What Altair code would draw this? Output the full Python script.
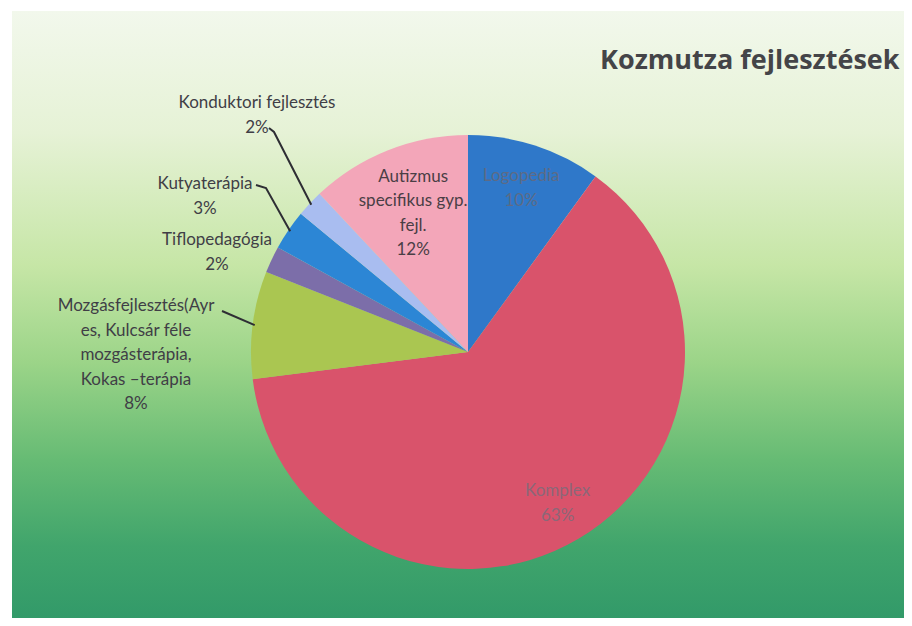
import math
import altair as alt
import pandas as pd

# ---- data ----
categories = [
    "Logopedia",
    "Komplex",
    "Mozgásfejlesztés(Ayres, Kulcsár féle mozgásterápia, Kokas –terápia",
    "Tiflopedagógia",
    "Kutyaterápia",
    "Konduktori fejlesztés",
    "Autizmus specifikus gyp. fejl.",
]
values = [10, 63, 8, 2, 3, 2, 12]
label_lines = [
    "Logopedia\n10%",
    "Komplex\n63%",
    "Mozgásfejlesztés(Ayr\nes, Kulcsár féle\nmozgásterápia,\nKokas –terápia\n8%",
    "Tiflopedagógia\n2%",
    "Kutyaterápia\n3%",
    "Konduktori fejlesztés\n2%",
    "Autizmus\nspecifikus gyp.\nfejl.\n12%",
]
title_text = "Kozmutza fejlesztések"

# ---- style / layout ----
slice_colors = ["#2f78c9", "#d9536b", "#aac651", "#7c6ea9", "#2c86d5", "#a9bdf0", "#f3a6b9"]
label_colors = ["#5d6b86", "#8c6778", "#403e46", "#403e46", "#403e46", "#403e46", "#4a3e45"]
W, H = 896, 610
CX, CY, R = 460, 344, 217
LH = 24.6
# inside labels: radial distance of block centre; outside labels: first-line centre
label_place = {
    0: ("polar", 172),
    1: ("polar", 176),
    6: ("polar", 149),
    2: ("fixed", (128, 298)),
    3: ("fixed", (209, 232)),
    4: ("fixed", (197, 176)),
    5: ("fixed", (249, 95)),
}
# leader lines: label-side points, ending at the slice edge
leader_start = {
    5: [(261, 120), (266, 124)],
    4: [(248, 177), (258, 180)],
    2: [(214, 303)],
}

total = sum(values)
mid_angle = []
acc = 0
for v in values:
    mid_angle.append(2 * math.pi * (acc + v / 2) / total)
    acc += v

df = pd.DataFrame({"cat": categories, "value": values, "idx": list(range(len(values)))})

lab_rows = []
for i, txt in enumerate(label_lines):
    kind, p = label_place[i]
    if kind == "polar":
        a = mid_angle[i]
        n = txt.count("\n")
        px, py = CX + p * math.sin(a), CY - p * math.cos(a) - n * LH / 2
    else:
        px, py = p
    lab_rows.append({"px": px, "py": py, "txt": txt, "col": label_colors[i]})
lab_df = pd.DataFrame(lab_rows)

lead_rows = []
for i, pts in leader_start.items():
    a = mid_angle[i]
    edge = (CX + (R - 2) * math.sin(a), CY - (R - 2) * math.cos(a))
    for k, (x, y) in enumerate(pts + [edge]):
        lead_rows.append({"lid": i, "ord": k, "px": x, "py": y})
lead_df = pd.DataFrame(lead_rows)

bg = alt.LinearGradient(
    gradient="linear",
    stops=[
        alt.GradientStop(color="#f2f8ec", offset=0),
        alt.GradientStop(color="#e6f2d6", offset=0.2),
        alt.GradientStop(color="#c6e6a6", offset=0.42),
        alt.GradientStop(color="#9bd488", offset=0.58),
        alt.GradientStop(color="#66bb74", offset=0.74),
        alt.GradientStop(color="#41a56c", offset=0.88),
        alt.GradientStop(color="#329a69", offset=1),
    ],
    x1=0, x2=0, y1=0, y2=1,
)

background = alt.Chart(pd.DataFrame({"a": [0]})).mark_rect(color=bg).encode(
    x=alt.value(4), x2=alt.value(W), y=alt.value(3), y2=alt.value(H)
)

pie = alt.Chart(df).mark_arc(radius=R).encode(
    theta=alt.Theta("value:Q", stack=True),
    color=alt.Color("cat:N", scale=alt.Scale(domain=categories, range=slice_colors), legend=None),
    order=alt.Order("idx:Q"),
    x=alt.value(CX),
    y=alt.value(CY),
)

leaders = alt.Chart(lead_df).mark_line(color="#2e2e34", strokeWidth=2).encode(
    x=alt.X("px:Q", scale=None, axis=None),
    y=alt.Y("py:Q", scale=None, axis=None),
    detail="lid:N",
    order="ord:Q",
)

labels = alt.Chart(lab_df).mark_text(
    lineBreak="\n", align="center", baseline="middle", font="Lato", fontSize=17, lineHeight=LH
).encode(
    x=alt.X("px:Q", scale=None, axis=None),
    y=alt.Y("py:Q", scale=None, axis=None),
    text="txt:N",
    color=alt.Color("col:N", scale=None),
)

title = alt.Chart(pd.DataFrame({"t": [title_text]})).mark_text(
    align="left", baseline="middle", font="Open Sans", fontSize=27, fontWeight="bold", color="#444448"
).encode(x=alt.value(592), y=alt.value(53), text="t:N")

chart = alt.layer(background, pie, leaders, labels, title).properties(
    width=W, height=H, autosize=alt.AutoSizeParams(type="fit", contains="padding"), padding=0,
    background="white",
).configure_view(stroke=None)

chart.save("out.html", embed_options={"renderer": "svg", "actions": False})
